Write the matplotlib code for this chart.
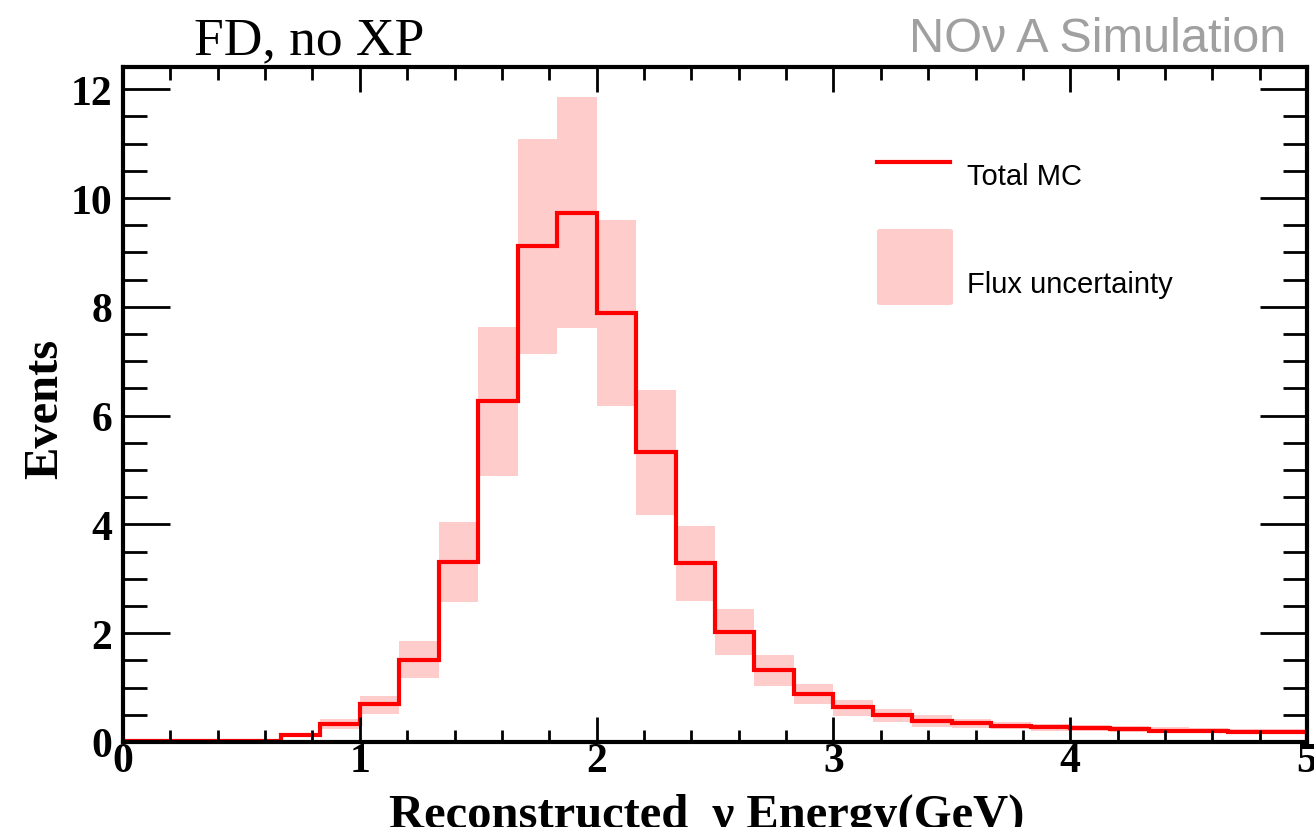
import numpy as np
import matplotlib
matplotlib.use("Agg")
import matplotlib.pyplot as plt
from matplotlib.ticker import MultipleLocator
import matplotlib.patches as mpatches
from matplotlib.lines import Line2D

# 30 bins of 1/6 GeV from 0 to 5
edges = np.linspace(0, 5, 31)

total_mc = [0.02, 0.02, 0.02, 0.02, 0.12, 0.33, 0.69, 1.51, 3.31, 6.27,
            9.12, 9.72, 7.89, 5.33, 3.29, 2.02, 1.33, 0.88, 0.64, 0.50,
            0.39, 0.34, 0.30, 0.27, 0.25, 0.23, 0.21, 0.20, 0.19, 0.18]
flux_lo = [0.01, 0.01, 0.01, 0.01, 0.10, 0.24, 0.51, 1.17, 2.57, 4.89,
           7.13, 7.61, 6.18, 4.17, 2.59, 1.59, 1.03, 0.69, 0.48, 0.37,
           0.28, 0.25, 0.23, 0.21, 0.20, 0.18, 0.17, 0.16, 0.15, 0.14]
flux_hi = [0.03, 0.03, 0.03, 0.03, 0.14, 0.42, 0.85, 1.86, 4.04, 7.63,
           11.08, 11.86, 9.60, 6.47, 3.97, 2.44, 1.60, 1.07, 0.77, 0.61,
           0.50, 0.42, 0.37, 0.33, 0.31, 0.29, 0.27, 0.25, 0.24, 0.23]

pink = '#ffcccc'
red = '#ff0000'

fig = plt.figure(figsize=(13.14, 8.28), dpi=100)
ax = fig.add_axes([0.0936, 0.1027, 0.9011, 0.8152])

lo = np.array(flux_lo)
hi = np.array(flux_hi)
ax.bar(edges[:-1], hi - lo, bottom=lo, width=np.diff(edges), align='edge',
       color=pink, linewidth=0)
ax.stairs(total_mc, edges, color=red, linewidth=3.0)

ax.set_xlim(0, 5)
ax.set_ylim(0, 12.41)

# ROOT style ticks: inside, all four sides
ax.xaxis.set_major_locator(MultipleLocator(1))
ax.xaxis.set_minor_locator(MultipleLocator(0.2))
ax.yaxis.set_major_locator(MultipleLocator(2))
ax.yaxis.set_minor_locator(MultipleLocator(0.5))
ax.tick_params(which='both', direction='in', top=True, right=True, width=2)
ax.tick_params(which='major', length=34)
ax.tick_params(which='minor', length=17)
ax.tick_params(axis='x', which='major', length=18)
ax.tick_params(axis='x', which='minor', length=9)
for s in ax.spines.values():
    s.set_linewidth(3)

for lab in ax.get_xticklabels() + ax.get_yticklabels():
    lab.set_fontfamily('Liberation Serif')
    lab.set_fontweight('bold')
    lab.set_fontsize(30)
ax.tick_params(axis='x', pad=0)
ax.tick_params(axis='y', pad=8)

ax.set_ylabel('Events', family='Liberation Serif', weight='bold', fontsize=35)
ax.yaxis.label.set_va('center')
ax.yaxis.set_label_coords(-0.066, 0.495)
ax.set_xlabel('Reconstructed  \u03bd Energy(GeV)', family='Liberation Serif',
              weight='bold', fontsize=35)
ax.xaxis.label.set_va('baseline')
ax.xaxis.set_label_coords(0.493, -0.126)

fig.text(0.148, 0.934, 'FD, no XP', family='Liberation Serif', fontsize=38.5,
         ha='left', va='baseline')
fig.text(0.979, 0.937, 'NO\u03bd\u2009A Simulation', family=['Liberation Sans', 'DejaVu Sans'],
         fontsize=35, color='#a0a0a0', ha='right', va='baseline')

# legend drawn by hand (ROOT TLegend look), positions in axes fraction
ax.add_line(Line2D([0.6368, 0.6985], [0.8593, 0.8593], transform=ax.transAxes,
                   color=red, linewidth=3.0))
ax.add_patch(mpatches.FancyBboxPatch((0.6368, 0.6474), 0.0642, 0.1126,
                                     boxstyle='round,pad=0,rounding_size=0.003',
                                     transform=ax.transAxes, color=pink, linewidth=0))
ax.text(0.7128, 0.8267, 'Total MC', transform=ax.transAxes, family='Liberation Sans',
        fontsize=21, va='baseline', ha='left')
ax.text(0.7128, 0.6667, 'Flux uncertainty', transform=ax.transAxes, family='Liberation Sans',
        fontsize=21, va='baseline', ha='left')

fig.savefig('out.png', dpi=100)
